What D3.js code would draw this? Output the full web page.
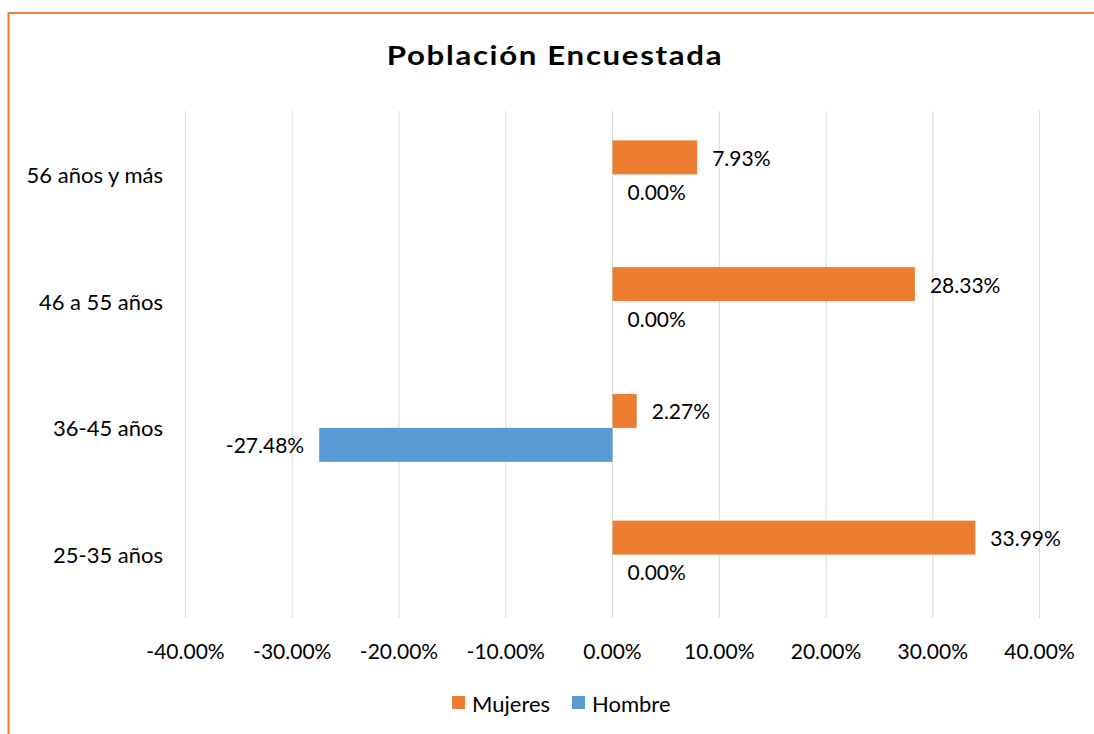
<!DOCTYPE html>
<html>
<head>
<meta charset="utf-8">
<script src="https://cdn.jsdelivr.net/npm/d3@7"></script>
<style>
  body { margin: 0; background: #fff; }
  text { font-family: Lato, "Open Sans", sans-serif; fill: #000; }
</style>
</head>
<body>
<script>
// data (top to bottom)
var categories = ["56 años y más", "46 a 55 años", "36-45 años", "25-35 años"];
var seriesNames = ["Mujeres", "Hombre"];
var mujeres = [0.0793, 0.2833, 0.0227, 0.3399];
var hombre = [0, 0, -0.2748, 0];
var tickValues = [-0.4, -0.3, -0.2, -0.1, 0, 0.1, 0.2, 0.3, 0.4];
var colors = ["#ED7D31", "#5B9BD5"];

var width = 1094, height = 734;

// percent format with a plain hyphen for negatives
var fmt = d3.formatLocale({decimal: ".", thousands: ",", grouping: [3], currency: ["$", ""], minus: "-"}).format(".2%");

var svg = d3.select("body").append("svg")
  .attr("width", width)
  .attr("height", height);

// orange chart border (only top/left visible in the crop)
svg.append("rect")
  .attr("x", 8.5).attr("y", 13)
  .attr("width", 1200).attr("height", 900)
  .attr("fill", "none")
  .attr("stroke", "#ED7D31")
  .attr("stroke-width", 2);

// title (slightly widened to match the wide bold face of the original)
svg.append("text")
  .attr("transform", "translate(555,55) scale(1.2,1)")
  .attr("text-anchor", "middle")
  .attr("dominant-baseline", "central")
  .style("font-size", "26px")
  .style("font-weight", "bold")
  .style("letter-spacing", "1.4px")
  .text("Población Encuestada");

var x = d3.scaleLinear().domain([-0.4, 0.4]).range([185.5, 1039.5]);
var y0 = d3.scaleBand().domain(categories).range([111, 618]).padding(0);
var y1 = d3.scaleBand().domain(seriesNames).range([0, y0.bandwidth()])
  .paddingInner(0).paddingOuter(0.864);

// gridlines
svg.append("g").selectAll("line")
  .data(tickValues)
  .enter().append("line")
  .attr("x1", function(d){ return x(d); })
  .attr("x2", function(d){ return x(d); })
  .attr("y1", 111).attr("y2", 618)
  .attr("stroke", "#d9d9d9")
  .attr("stroke-width", 1);

// x tick labels
svg.append("g").selectAll("text")
  .data(tickValues)
  .enter().append("text")
  .attr("x", function(d){ return x(d); })
  .attr("y", 650)
  .attr("text-anchor", "middle")
  .attr("dominant-baseline", "central")
  .style("font-size", "21px")
  .text(function(d){ return fmt(d); });

// category labels
svg.append("g").selectAll("text")
  .data(categories)
  .enter().append("text")
  .attr("x", 163)
  .attr("y", function(d){ return y0(d) + y0.bandwidth() / 2; })
  .attr("text-anchor", "end")
  .attr("dominant-baseline", "central")
  .style("font-size", "22px")
  .text(function(d){ return d; });

// build rows for the bars
var rows = [];
categories.forEach(function(c, i){
  rows.push({cat: c, series: "Mujeres", value: mujeres[i], color: colors[0]});
  rows.push({cat: c, series: "Hombre", value: hombre[i], color: colors[1]});
});

var bars = svg.append("g").selectAll("g")
  .data(rows)
  .enter().append("g");

bars.append("rect")
  .attr("x", function(d){ return x(Math.min(0, d.value)); })
  .attr("y", function(d){ return y0(d.cat) + y1(d.series); })
  .attr("width", function(d){ return Math.abs(x(d.value) - x(0)); })
  .attr("height", y1.bandwidth())
  .attr("fill", function(d){ return d.color; });

bars.append("text")
  .attr("x", function(d){ return d.value < 0 ? x(d.value) - 15 : x(d.value) + 15; })
  .attr("y", function(d){ return y0(d.cat) + y1(d.series) + y1.bandwidth() / 2; })
  .attr("text-anchor", function(d){ return d.value < 0 ? "end" : "start"; })
  .attr("dominant-baseline", "central")
  .style("font-size", "21px")
  .text(function(d){ return fmt(d.value); });

// legend
var legendX = [452, 572];
var legend = svg.append("g").selectAll("g")
  .data(seriesNames)
  .enter().append("g")
  .attr("transform", function(d, i){ return "translate(" + legendX[i] + ",696)"; });

legend.append("rect")
  .attr("width", 13).attr("height", 13)
  .attr("fill", function(d, i){ return colors[i]; });

legend.append("text")
  .attr("x", 20).attr("y", 7)
  .attr("dominant-baseline", "central")
  .style("font-size", "22px")
  .text(function(d){ return d; });
</script>
</body>
</html>
